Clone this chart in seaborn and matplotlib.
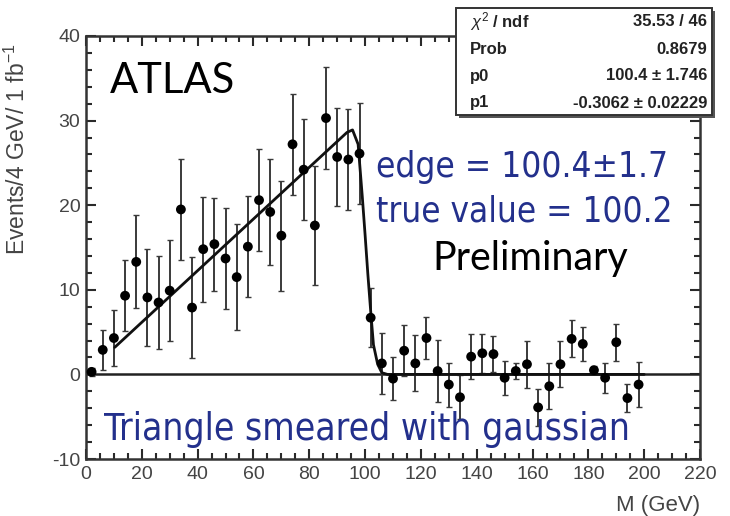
import matplotlib
matplotlib.use("Agg")
import matplotlib.pyplot as plt
import seaborn as sns
import pandas as pd
from matplotlib import font_manager as fm
from matplotlib.patches import Rectangle
from matplotlib.ticker import MultipleLocator, FixedLocator

# ---------------- data ----------------
mass = [2, 6, 10, 14, 18, 22, 26, 30, 34, 38, 42, 46, 50, 54, 58, 62, 66, 70, 74, 78,
        82, 86, 90, 94, 98, 102, 106, 110, 114, 118, 122, 126, 130, 134, 138, 142, 146,
        150, 154, 158, 162, 166, 170, 174, 178, 182, 186, 190, 194, 198]
events = [0.3, 2.9, 4.3, 9.3, 13.3, 9.1, 8.5, 9.9, 19.5, 7.9, 14.8, 15.4, 13.7, 11.5,
          15.1, 20.6, 19.2, 16.4, 27.2, 24.2, 17.6, 30.3, 25.7, 25.4, 26.1, 6.7, 1.3,
          -0.5, 2.8, 1.3, 4.3, 0.4, -1.2, -2.7, 2.1, 2.5, 2.4, -0.4, 0.4, 1.2, -3.9,
          -1.4, 1.2, 4.2, 3.6, 0.5, -0.4, 3.8, -2.8, -1.2]
errors = [0.5, 2.4, 3.3, 4.2, 5.5, 5.7, 5.5, 6.0, 6.0, 6.0, 6.2, 5.5, 6.0, 6.3, 6.0,
          6.0, 6.3, 6.5, 6.0, 6.0, 7.0, 6.0, 5.8, 6.0, 6.0, 3.5, 3.6, 2.5, 3.0, 3.3,
          2.5, 3.7, 2.6, 2.6, 2.7, 2.3, 2.1, 2.0, 1.0, 2.8, 2.2, 2.7, 2.7, 2.2, 2.0,
          0.5, 1.8, 2.2, 1.7, 2.7]
fit_mass = [10.3, 93.5, 95.5, 97.5, 99.0, 100.0, 101.0, 102.0, 103.0, 104.5, 106.0, 108.0, 200.0]
fit_events = [3.2, 28.6, 28.9, 27.2, 21.0, 16.5, 11.8, 7.5, 3.5, 1.2, 0.2, 0.0, 0.0]

x_ticks = [0, 20, 40, 60, 80, 100, 120, 140, 160, 180, 200, 220]
y_ticks = [-10, 0, 10, 20, 30, 40]

stat_names = [r"$\chi^{2}$ / ndf", "Prob", "p0", "p1"]
stat_values = ["35.53 / 46", "0.8679", "100.4 \u00b1 1.746", "-0.3062 \u00b1 0.02229"]

label_atlas = "ATLAS"
label_prelim = "Preliminary"
label_edge = "edge = 100.4\u00b11.7"
label_true = "true value = 100.2"
label_triangle = "Triangle smeared with gaussian"
x_label = "M (GeV)"
y_label = r"Events/4 GeV/ 1 fb$^{-1}$"

# ---------------- style ----------------
sns.set_theme(style="ticks")
plt.rcParams["font.family"] = ["Liberation Sans", "DejaVu Sans"]
plt.rcParams["axes.unicode_minus"] = False
plt.rcParams["mathtext.fontset"] = "custom"
plt.rcParams["mathtext.rm"] = "Liberation Sans"
plt.rcParams["mathtext.it"] = "Liberation Sans:italic"


def narrow_font():
    best, best_score = None, -1
    for f in fm.fontManager.ttflist:
        n = f.name.lower()
        st = str(f.stretch).lower()
        if f.style != "normal":
            continue
        w = f.weight
        if isinstance(w, str):
            ok_w = w in ("normal", "regular", "book")
        else:
            ok_w = w == 400
        if not ok_w:
            continue
        score = -1
        if "liberation sans narrow" in n:
            score = 5
        elif st == "condensed" or "condensed" in n:
            score = 4
        elif "narrow" in n:
            score = 3
        elif st == "semi-condensed":
            score = 2
        if score > best_score:
            best, best_score = f, score
    if best is not None and best_score > 0:
        return fm.FontProperties(fname=best.fname)
    return fm.FontProperties(family="Liberation Sans")


NARROW = narrow_font()

W, H = 730, 516
fig = plt.figure(figsize=(W / 100, H / 100), dpi=100)
fig.patch.set_facecolor("white")
ax = fig.add_axes([86 / W, 1 - 459 / H, (700 - 86) / W, (459 - 36) / H])
ax.set_facecolor("white")

df = pd.DataFrame({"mass": mass, "events": events, "err": errors})
fit_df = pd.DataFrame({"mass": fit_mass, "events": fit_events})

ax.axhline(0, color="#222222", lw=1.8, zorder=2)
ax.errorbar(df["mass"], df["events"], yerr=df["err"], fmt="none",
            ecolor="#3a3a3a", elinewidth=1.4, capsize=2.2, capthick=1.0, zorder=3)
sns.lineplot(data=fit_df, x="mass", y="events", ax=ax, color="#111111",
             lw=2.0, zorder=4, sort=False)
sns.scatterplot(data=df, x="mass", y="events", ax=ax, color="#000000",
                s=50, marker="o", edgecolor="none", zorder=5)

ax.set_xlim(0, 220)
ax.set_ylim(-10, 40)
ax.xaxis.set_major_locator(FixedLocator(x_ticks))
ax.yaxis.set_major_locator(FixedLocator(y_ticks))
ax.xaxis.set_minor_locator(MultipleLocator(5))
ax.yaxis.set_minor_locator(MultipleLocator(2))
ax.tick_params(which="both", direction="in", top=True, right=True,
               bottom=True, left=True, color="#2a2a2a", width=1.5)
ax.tick_params(which="major", length=7.5)
ax.tick_params(which="minor", length=4)
ax.tick_params(axis="both", labelsize=14, labelcolor="#444444")
ax.tick_params(axis="x", pad=5)
ax.tick_params(axis="y", pad=4)
for s in ax.spines.values():
    s.set_color("#333333")
    s.set_linewidth(1.8)

ax.set_xlabel(x_label, loc="right", fontsize=16, color="#444444")
ax.xaxis.set_label_coords(1.0, -0.085)
ax.set_ylabel(y_label, loc="top", fontsize=16.5, color="#444444")
ax.yaxis.set_label_coords(-0.092, 0.982)

# ---------------- annotation text ----------------
renderer = fig.canvas.get_renderer()


def place(s, left, base, width, color, fp=None, size=20, weight="normal"):
    kw = dict(ha="left", va="baseline", color=color, fontsize=size, fontweight=weight)
    if fp is not None:
        t = fig.text(left / W, 1 - base / H, s, fontproperties=fp, **kw)
        t.set_fontsize(size)
    else:
        t = fig.text(left / W, 1 - base / H, s, family=["Lato", "DejaVu Sans"], **kw)
    bb = t.get_window_extent(renderer)
    t.set_fontsize(t.get_fontsize() * width / bb.width)
    return t


place(label_atlas, 110, 93, 125, "#000000", size=27)
place(label_prelim, 432, 270, 196, "#000000", size=26)
blue = "#23308c"
place(label_edge, 376, 177, 292, blue, fp=NARROW, size=30)
place(label_true, 376, 221, 296, blue, fp=NARROW, size=30)
place(label_triangle, 104, 440, 526, blue, fp=NARROW, size=32)

# ---------------- statistics box ----------------
bx0, bx1, by0, by1 = 456, 712, 8, 115
shadow = Rectangle((bx0 / W + 3 / W, 1 - by1 / H - 3 / H), (bx1 - bx0) / W, (by1 - by0) / H,
                   transform=fig.transFigure, facecolor="#555555", edgecolor="none", zorder=5)
box = Rectangle((bx0 / W, 1 - by1 / H), (bx1 - bx0) / W, (by1 - by0) / H,
                transform=fig.transFigure, facecolor="white", edgecolor="#333333",
                lw=1.4, zorder=6)
fig.patches.extend([shadow, box])
row_y = [22, 49, 76, 103]
for name, val, yy in zip(stat_names, stat_values, row_y):
    fig.text(470 / W, 1 - yy / H, name, ha="left", va="center", fontsize=12,
             fontweight="bold", color="#222222", zorder=7)
    fig.text(707 / W, 1 - yy / H, val, ha="right", va="center", fontsize=12,
             fontweight="bold", color="#222222", zorder=7)

fig.savefig("out.png", dpi=100, facecolor="white")
